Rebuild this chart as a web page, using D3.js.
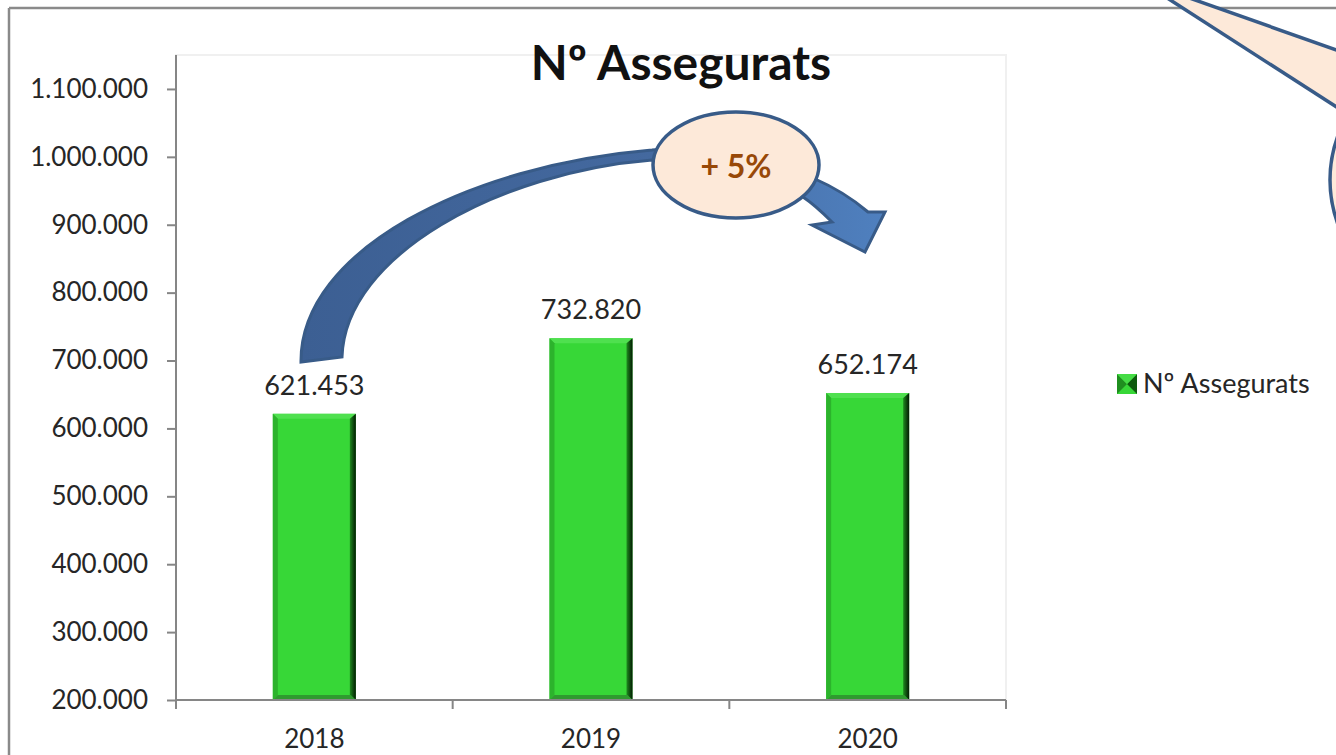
<!DOCTYPE html>
<html>
<head>
<meta charset="utf-8">
<script src="https://cdn.jsdelivr.net/npm/d3@7"></script>
<style>
  html, body { margin: 0; padding: 0; background: #fff; }
  svg { display: block; font-family: Lato, "Open Sans", sans-serif; }
</style>
</head>
<body>
<div id="chart"></div>
<script>
// dades del gràfic
const years = ["2018", "2019", "2020"];
const assegurats = [621453, 732820, 652174];
const yTicks = [200000, 300000, 400000, 500000, 600000, 700000, 800000, 900000, 1000000, 1100000];
const seriesName = "Nº Assegurats";
const chartTitle = "Nº Assegurats";
const growthLabel = "+ 5%";

const W = 1336, H = 755;
const plot = { left: 176, right: 1006, top: 55, bottom: 700 };

const locale = d3.formatLocale({ decimal: ",", thousands: ".", grouping: [3], currency: ["", "€"] });
const fmt = locale.format(",d");

const svg = d3.select("#chart").append("svg")
  .attr("width", W)
  .attr("height", H);

const defs = svg.append("defs");
// degradat de la fletxa corba
const ag = defs.append("linearGradient").attr("id", "arrowGrad")
  .attr("x1", "0").attr("y1", "0").attr("x2", "1").attr("y2", "0");
ag.append("stop").attr("offset", "0").attr("stop-color", "#3c5f93");
ag.append("stop").attr("offset", "0.6").attr("stop-color", "#44699f");
ag.append("stop").attr("offset", "1").attr("stop-color", "#4f80bf");
// vora dreta fosca de les barres
const rg = defs.append("linearGradient").attr("id", "rightBevel")
  .attr("x1", "0").attr("y1", "0").attr("x2", "1").attr("y2", "0");
rg.append("stop").attr("offset", "0").attr("stop-color", "#1f8a1f");
rg.append("stop").attr("offset", "1").attr("stop-color", "#021a02");

// marc del gràfic
svg.append("line").attr("x1", 9).attr("x2", W).attr("y1", 8).attr("y2", 8)
  .attr("stroke", "#8a8a8a").attr("stroke-width", 2.5);
svg.append("line").attr("x1", 9).attr("x2", 9).attr("y1", 8).attr("y2", H)
  .attr("stroke", "#8a8a8a").attr("stroke-width", 2.5);

// àrea de traçat
svg.append("rect")
  .attr("x", plot.left).attr("y", plot.top)
  .attr("width", plot.right - plot.left).attr("height", plot.bottom - plot.top)
  .attr("fill", "none").attr("stroke", "#f0f0f0").attr("stroke-width", 2);

// escales
const x = d3.scaleBand().domain(years).range([plot.left, plot.right]).paddingInner(0.7).paddingOuter(0.35);
const xCat = d3.scaleBand().domain(years).range([plot.left, plot.right]);
const y = d3.scaleLinear().domain([200000, 1150000]).range([plot.bottom, plot.top]);

// barres amb bisell
const bars = svg.append("g").selectAll("g")
  .data(years.map((d, i) => ({ year: d, value: assegurats[i] })))
  .join("g");

const bev = 5;
bars.append("rect")
  .attr("x", d => x(d.year)).attr("y", d => y(d.value))
  .attr("width", x.bandwidth()).attr("height", d => y(200000) - y(d.value))
  .attr("fill", "#37d737");
// bisell superior
bars.append("polygon").attr("points", d => {
  const x0 = x(d.year), x1 = x0 + x.bandwidth(), y0 = y(d.value);
  return [[x0, y0], [x1, y0], [x1 - bev, y0 + bev], [x0 + bev, y0 + bev]].join(" ");
}).attr("fill", "#4fe04f");
// bisell esquerre
bars.append("polygon").attr("points", d => {
  const x0 = x(d.year), y0 = y(d.value), y1 = y(200000);
  return [[x0, y0], [x0 + bev, y0 + bev], [x0 + bev, y1 - bev], [x0, y1]].join(" ");
}).attr("fill", "#2cb32c");
// bisell dret
bars.append("polygon").attr("points", d => {
  const x1 = x(d.year) + x.bandwidth(), y0 = y(d.value), y1 = y(200000);
  return [[x1, y0], [x1, y1], [x1 - bev - 1, y1 - bev], [x1 - bev - 1, y0 + bev]].join(" ");
}).attr("fill", "url(#rightBevel)");
// bisell inferior
bars.append("polygon").attr("points", d => {
  const x0 = x(d.year), x1 = x0 + x.bandwidth(), y1 = y(200000);
  return [[x0, y1], [x0 + bev, y1 - bev], [x1 - bev, y1 - bev], [x1, y1]].join(" ");
}).attr("fill", "#2f9a2f");

// etiquetes de dades
bars.append("text")
  .attr("x", d => x(d.year) + x.bandwidth() / 2)
  .attr("y", d => y(d.value) - 19)
  .attr("text-anchor", "middle")
  .attr("font-size", 27)
  .attr("fill", "#262626")
  .text(d => fmt(d.value));

// eix Y
const yAxis = svg.append("g")
  .attr("transform", `translate(${plot.left},0)`)
  .call(d3.axisLeft(y).tickValues(yTicks).tickSize(9).tickPadding(19).tickFormat(fmt));
yAxis.select(".domain").attr("d", `M0,${plot.top}V${plot.bottom}`);

// eix X
const xAxis = svg.append("g")
  .attr("transform", `translate(0,${plot.bottom})`)
  .call(d3.axisBottom(xCat).tickSize(0).tickPadding(30));
xAxis.select(".domain").attr("d", `M${plot.left},0H${plot.right}`);
// marques entre categories
xAxis.selectAll(".sep")
  .data(d3.range(years.length + 1))
  .join("line")
  .attr("class", "sep")
  .attr("x1", i => plot.left + i * xCat.step()).attr("x2", i => plot.left + i * xCat.step())
  .attr("y1", 0).attr("y2", 9);

[yAxis, xAxis].forEach(a => {
  a.selectAll(".domain, line").attr("stroke", "#868686").attr("stroke-width", 2);
  a.selectAll("text").attr("font-size", 26).attr("fill", "#262626").attr("font-family", "Lato, sans-serif");
});

// títol
svg.append("text")
  .attr("x", 681).attr("y", 80)
  .attr("text-anchor", "middle")
  .attr("font-size", 48).attr("font-weight", "bold")
  .attr("fill", "#111")
  .text(chartTitle);

// fletxa corba (de 2018 cap a 2020)
svg.append("path")
  .attr("d", "M301,362 C300,250 470,165 652,150 Q745,140 813,178 Q845,192 868,212 L885,212 L865,252 L812,225 L832,222 Q815,205 803,197 Q740,165 652,160 C500,172 345,255 342,357 Z")
  .attr("fill", "url(#arrowGrad)")
  .attr("stroke", "#385b88").attr("stroke-width", 3).attr("stroke-linejoin", "miter");

// oval amb el percentatge
svg.append("ellipse")
  .attr("cx", 736).attr("cy", 165).attr("rx", 83).attr("ry", 53)
  .attr("fill", "#fde9d9").attr("stroke", "#385b88").attr("stroke-width", 3.5);
svg.append("text")
  .attr("x", 736).attr("y", 178)
  .attr("text-anchor", "middle")
  .attr("font-size", 32).attr("font-weight", "bold")
  .attr("fill", "#984807")
  .text(growthLabel);

// llegenda
const leg = svg.append("g").attr("transform", "translate(1117,374)");
const s = 20;
leg.append("rect").attr("width", s).attr("height", s).attr("fill", "#37d737");
leg.append("polygon").attr("points", [[0, 0], [s / 2, s / 2], [0, s]].join(" ")).attr("fill", "#1f8f1f");
leg.append("polygon").attr("points", [[s, 0], [s / 2, s / 2], [s, s]].join(" ")).attr("fill", "#0d5a0d");
leg.append("polygon").attr("points", [[0, 0], [s, 0], [s / 2, s / 2]].join(" ")).attr("fill", "#45dc45");
leg.append("text").attr("x", 26).attr("y", 19)
  .attr("font-size", 27).attr("fill", "#262626")
  .text(seriesName);

// bafarada del cantó superior dret (retallada)
const bub = svg.append("g");
bub.append("ellipse")
  .attr("cx", 1560).attr("cy", 180).attr("rx", 230).attr("ry", 170)
  .attr("fill", "#fde9d9").attr("stroke", "#385b88").attr("stroke-width", 3.5);
bub.append("polygon")
  .attr("points", [[1140, -19.5], [1390, 70], [1360, 122]].join(" "))
  .attr("fill", "#fde9d9");
bub.append("line").attr("x1", 1140).attr("y1", -19.5).attr("x2", 1352).attr("y2", 117)
  .attr("stroke", "#385b88").attr("stroke-width", 3.5);
bub.append("line").attr("x1", 1140).attr("y1", -19.5).attr("x2", 1390).attr("y2", 69)
  .attr("stroke", "#385b88").attr("stroke-width", 3.5);
</script>
</body>
</html>
